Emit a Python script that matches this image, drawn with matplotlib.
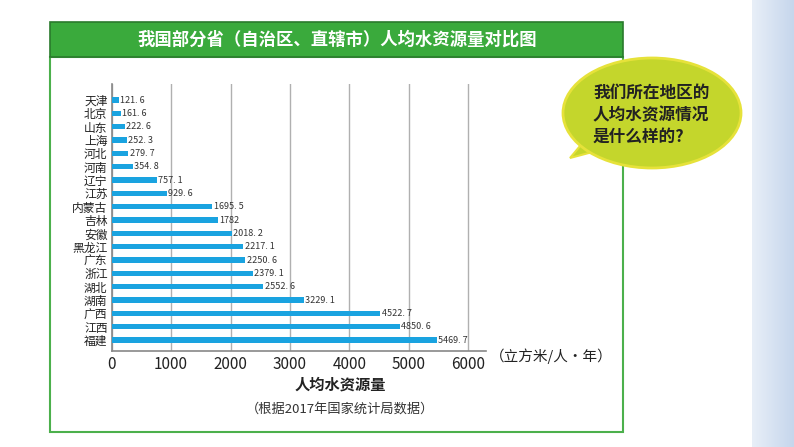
import matplotlib
matplotlib.use("Agg")
import matplotlib.pyplot as plt
from matplotlib.patches import Rectangle, Ellipse, Polygon
import numpy as np

plt.rcParams['font.family'] = ['Noto Sans CJK SC', 'DejaVu Sans']

# data (top to bottom)
provinces = ["天津", "北京", "山东", "上海", "河北", "河南", "辽宁", "江苏", "内蒙古", "吉林",
             "安徽", "黑龙江", "广东", "浙江", "湖北", "湖南", "广西", "江西", "福建"]
water = [121.6, 161.6, 222.6, 252.3, 279.7, 354.8, 757.1, 929.6, 1695.5, 1782,
         2018.2, 2217.1, 2250.6, 2379.1, 2552.6, 3229.1, 4522.7, 4850.6, 5469.7]
value_labels = ["121. 6", "161. 6", "222. 6", "252. 3", "279. 7", "354. 8", "757. 1", "929. 6",
                "1695. 5", "1782", "2018. 2", "2217. 1", "2250. 6", "2379. 1", "2552. 6",
                "3229. 1", "4522. 7", "4850. 6", "5469. 7"]
xticks = [0, 1000, 2000, 3000, 4000, 5000, 6000]

W, H = 794, 447
fig = plt.figure(figsize=(W/100, H/100), dpi=100)
fig.patch.set_facecolor("white")

# background / decoration layer in pixel coords
bg = fig.add_axes([0, 0, 1, 1], zorder=0)
bg.set_xlim(0, W); bg.set_ylim(H, 0); bg.axis("off")
# light blue strip on the right
grad = np.linspace(0, 1, 50).reshape(1, -1)
bg.imshow(grad, extent=(752, W, H, 0), cmap=matplotlib.colors.LinearSegmentedColormap.from_list(
    "b", ["#e8eff8", "#c6d6ec"]), aspect="auto", zorder=0)
# frame
bg.add_patch(Rectangle((50, 57), 573, 375, facecolor="white", edgecolor="#4cb04c", lw=1.5, zorder=1))
# title bar
bg.add_patch(Rectangle((50, 22), 573, 35, facecolor="#3aaa3c", edgecolor="#2a7a2c", lw=1.2, zorder=2))
bg.text(337, 40, "我国部分省（自治区、直辖市）人均水资源量对比图", color="white", fontsize=12.5,
        fontweight="bold", ha="center", va="center", zorder=3)
# speech bubble
bg.add_patch(Polygon([[585, 140], [570, 158], [600, 150]], closed=True, facecolor="#c4d62c",
                     edgecolor="#e6e23a", lw=1.5, zorder=4))
bg.add_patch(Ellipse((652, 113), 178, 110, facecolor="#c4d62c", edgecolor="#e6e23a", lw=2, zorder=5))
bg.text(593, 115, "我们所在地区的\n人均水资源情况\n是什么样的?", color="#222222", fontsize=12,
        fontweight="bold", ha="left", va="center", linespacing=1.3, zorder=6)
# axis captions
bg.text(490, 356, "（立方米/人・年）", fontsize=10.5, color="#222222", ha="left", va="center", zorder=3)
bg.text(340, 385, "人均水资源量", fontsize=11, fontweight="bold", color="#222222", ha="center", va="center", zorder=3)
bg.text(340, 409, "（根据2017年国家统计局数据）", fontsize=9.5, color="#333333", ha="center", va="center", zorder=3)

# chart axes
x0, x1 = 111.7, 486.0
ytop, ybot = 84, 350.7
ax = fig.add_axes([x0/W, (H-ybot)/H, (x1-x0)/W, (ybot-ytop)/H], zorder=2)
ax.patch.set_alpha(0)
ypos = np.arange(len(provinces))
ax.barh(ypos, water, height=0.42, color="#1aa3e0", zorder=3)
for y, v, lab in zip(ypos, water, value_labels):
    ax.text(v + 20, y, lab, fontsize=6.5, color="#333333", va="center", ha="left", zorder=4)
ax.set_xlim(0, 6300)
ax.set_ylim(len(provinces) - 0.2, -1.2)
ax.set_yticks(ypos)
ax.set_yticklabels(provinces, fontsize=8.5, color="#222222")
ax.set_xticks(xticks)
ax.set_xticklabels([str(t) for t in xticks], fontsize=11, color="#222222")
ax.tick_params(length=0, pad=3)
ax.tick_params(axis="x", pad=4)
ax.grid(axis="x", color="#b0b0b0", lw=1, zorder=0)
for s in ["top", "right"]:
    ax.spines[s].set_visible(False)
ax.spines["left"].set_color("#888888")
ax.spines["bottom"].set_color("#888888")
ax.spines["left"].set_linewidth(1.2)
ax.spines["bottom"].set_linewidth(1.2)

fig.savefig("out.png", dpi=100)
